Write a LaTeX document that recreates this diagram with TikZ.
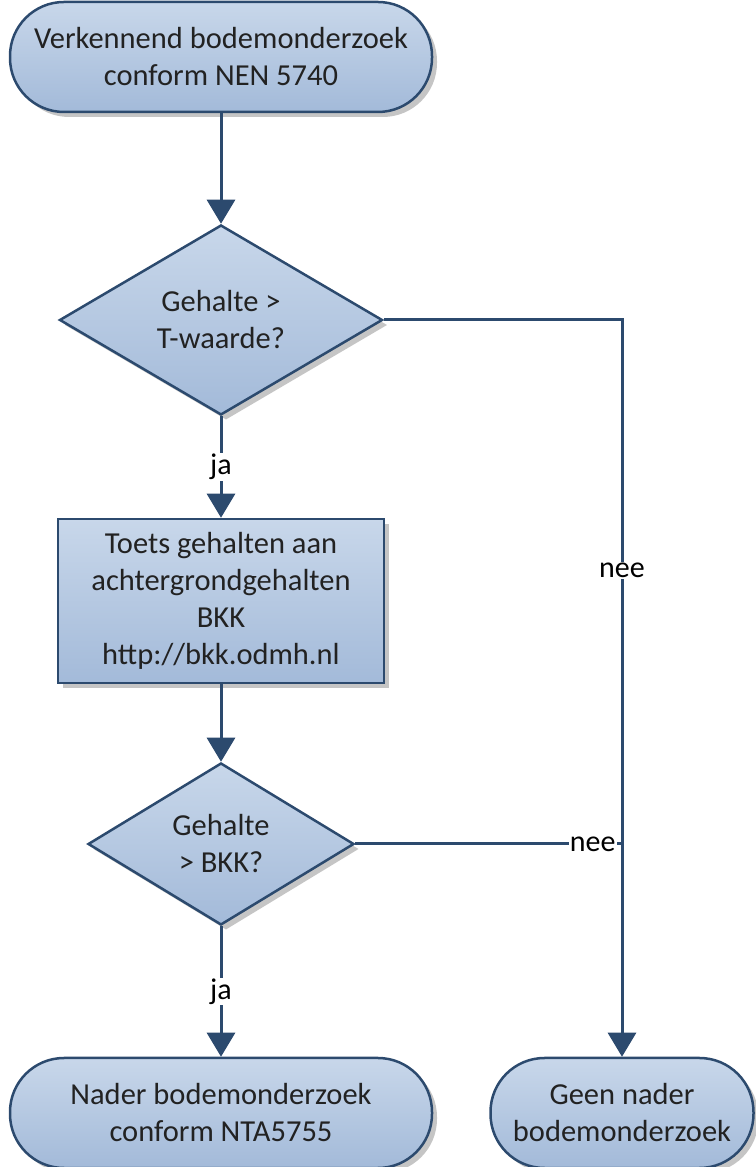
\documentclass[tikz,border=0pt]{standalone}
\usepackage{fontspec}
\setmainfont{Carlito}
\usetikzlibrary{shapes.geometric,shadows,arrows.meta}
\definecolor{lijn}{HTML}{2C4A6E}
\definecolor{vulboven}{HTML}{C8D7EA}
\definecolor{vulonder}{HTML}{A3BAD9}
\definecolor{tekst}{HTML}{222222}

\begin{document}
\begin{tikzpicture}[->,>={Triangle[width=28pt,length=24pt]},line width=3pt,color=lijn,x=1pt,y=1pt,
    box/.style={draw=lijn,line width=2.5pt,top color=vulboven,bottom color=vulonder,text=tekst,align=center,font=\fontsize{30.5}{37}\selectfont,
        drop shadow={shadow xshift=5pt,shadow yshift=-5pt,fill=black!45,opacity=0.5}},
    terminal/.style={box,rectangle,rounded corners=54pt,minimum height=110pt},
    beslis/.style={box,diamond,inner sep=0pt},
    antwoord/.style={fill=white,text=black,inner sep=1pt,font=\fontsize{30}{36}\selectfont}]
            \useasboundingbox (0,0) rectangle (755,1167);

            \node[terminal, minimum width=422pt] (1) at (221,1110) {Verkennend bodemonderzoek\\conform NEN 5740};
            \node[beslis, minimum width=323pt, minimum height=190pt] (2)[below of = 1, node distance=263pt] {Gehalte >\\T-waarde?};
            \node[box, rectangle, minimum width=326pt, minimum height=164pt] (3)[below of = 2, node distance=281pt] {Toets gehalten aan\\achtergrondgehalten\\BKK\\http://bkk.odmh.nl};
            \node[beslis, minimum width=266pt, minimum height=162pt] (4)[below of = 3, node distance=243pt] {Gehalte\\> BKK?};
            \node[terminal, minimum width=422pt] (5)[below of = 4, node distance=269pt] {Nader bodemonderzoek\\conform NTA5755};
            \node[terminal, minimum width=263pt] (6)[right of = 5, node distance=401pt] {Geen nader\\bodemonderzoek};
            \coordinate (samen) at (4 -| 6);

            \path[every node/.style={antwoord}]
                (1) edge (2)
                (2) edge node {ja} (3)
                (3) edge (4)
                (4) edge node {ja} (5)
            ;
            \draw (2) -| node[antwoord, pos=0.67] {nee} (6);
            \draw[-] (4) -- node[antwoord, pos=1, anchor=east, xshift=-4pt] {nee} (samen);
        \end{tikzpicture}
\end{document}
